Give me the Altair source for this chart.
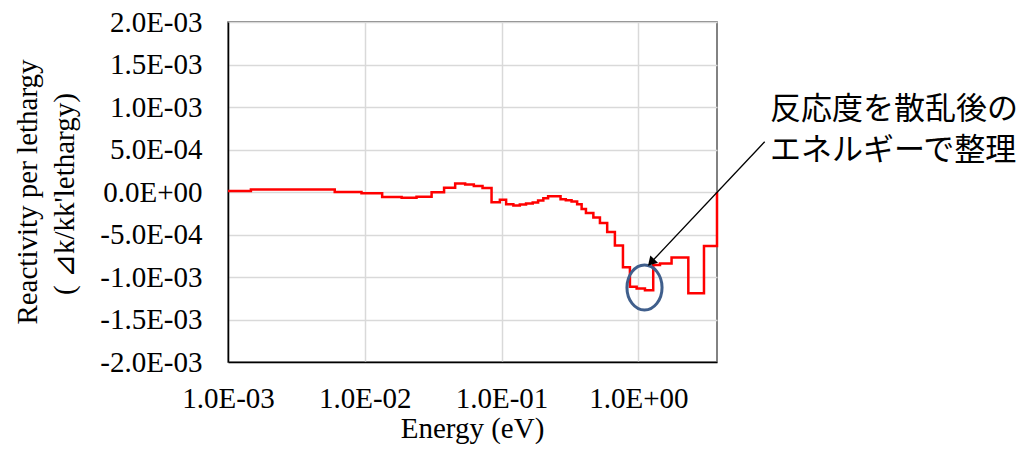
import json
import altair as alt
import pandas as pd

# ---- data ----
energy = [0.00100, 0.00147, 0.00603, 0.00946, 0.0134, 0.0186, 0.0239, 0.0308, 0.0380,
          0.0458, 0.0542, 0.0627, 0.0726, 0.0845, 0.0972, 0.108, 0.122, 0.136, 0.151,
          0.169, 0.185, 0.202, 0.219, 0.270, 0.295, 0.325, 0.357, 0.385, 0.414, 0.469,
          0.524, 0.592, 0.674, 0.772, 0.868, 0.972, 1.118, 1.285, 1.44, 1.75, 2.32,
          3.02, 3.76]
reactivity = [0.013e-3, 0.030e-3, 0.000e-3, -0.014e-3, -0.058e-3, -0.069e-3, -0.055e-3,
              -0.003e-3, 0.050e-3, 0.100e-3, 0.088e-3, 0.072e-3, 0.048e-3, -0.120e-3,
              -0.090e-3, -0.144e-3, -0.160e-3, -0.147e-3, -0.136e-3, -0.124e-3, -0.100e-3,
              -0.073e-3, -0.050e-3, -0.085e-3, -0.097e-3, -0.112e-3, -0.144e-3, -0.200e-3,
              -0.246e-3, -0.300e-3, -0.366e-3, -0.470e-3, -0.630e-3, -0.885e-3, -1.115e-3,
              -1.135e-3, -1.157e-3, -0.860e-3, -0.840e-3, -0.770e-3, -1.190e-3, -0.635e-3,
              0.000e-3]

x_tick_values = [0.001, 0.01, 0.1, 1.0]
x_tick_labels = ["1.0E-03", "1.0E-02", "1.0E-01", "1.0E+00"]
y_tick_values = [-0.002, -0.0015, -0.001, -0.0005, 0.0, 0.0005, 0.001, 0.0015, 0.002]
y_tick_labels = ["-2.0E-03", "-1.5E-03", "-1.0E-03", "-5.0E-04", "0.0E+00",
                 "5.0E-04", "1.0E-03", "1.5E-03", "2.0E-03"]
x_title = "Energy (eV)"
y_title_lines = ["Reactivity per lethargy", "( \u22bfk/kk'lethargy)"]
note_lines = ["反応度を散乱後の", "エネルギーで整理"]

SERIF = "Liberation Serif"
JP = "Noto Sans CJK JP"
W, H = 489, 340

df = pd.DataFrame({"energy": energy, "reactivity": reactivity})
one = pd.DataFrame({"k": [0]})

x_expr = json.dumps(x_tick_labels) + "[round(log(datum.value)/LN10)+3]"
y_expr = json.dumps(y_tick_labels) + "[round(datum.value/0.0005)+4]"

line = alt.Chart(df).mark_line(
    interpolate="step-after", color="#ff0000", strokeWidth=2.5
).encode(
    x=alt.X("energy:Q",
            scale=alt.Scale(type="log", domain=[0.001, 3.76], nice=False),
            axis=alt.Axis(values=x_tick_values, labelExpr=x_expr, title=None,
                          grid=True, ticks=False, labelPadding=22, labelFontSize=29,
                          labelFont=SERIF, labelColor="black", labelFlush=False,
                          labelOverlap=False, domainColor="black", domainWidth=1.5,
                          gridColor="#d9d9d9", gridWidth=1.5)),
    y=alt.Y("reactivity:Q",
            scale=alt.Scale(domain=[-0.002, 0.002], nice=False),
            axis=alt.Axis(values=y_tick_values, labelExpr=y_expr, title=None,
                          grid=True, ticks=False, labelPadding=26, labelFontSize=29,
                          labelFont=SERIF, labelColor="black", labelFlush=False,
                          labelOverlap=False, domainColor="black", domainWidth=1.5,
                          gridColor="#d9d9d9", gridWidth=1.5)),
)

def text_layer(txt, x, y, **kw):
    return alt.Chart(one).mark_text(text=txt, **kw).encode(
        x=alt.value(x), y=alt.value(y))

xt = text_layer(x_title, W / 2, H + 76, font=SERIF, fontSize=29, color="black",
                align="center", baseline="alphabetic")
yt1 = text_layer(y_title_lines[0], -200, 170, font=SERIF, fontSize=29, color="black",
                 align="center", baseline="middle", angle=270)
yt2 = text_layer(y_title_lines[1], -163, 172, font=SERIF, fontSize=29, color="black",
                 align="center", baseline="middle", angle=270)
n1 = text_layer(note_lines[0], 542, 87.5, font=JP, fontSize=31, color="black",
                align="left", baseline="middle")
n2 = text_layer(note_lines[1], 542, 128.5, font=JP, fontSize=31, color="black",
                align="left", baseline="middle")

arrow_line = alt.Chart(one).mark_rule(color="black", strokeWidth=1.3).encode(
    x=alt.value(536.7), y=alt.value(119.7), x2=alt.value(424.1), y2=alt.value(239.3))
arrow_head = alt.Chart(one).mark_point(
    shape="triangle", angle=223, size=110, filled=True, color="black", opacity=1
).encode(x=alt.value(424.1), y=alt.value(239.3))

ellipse = alt.Chart(one).mark_point(
    shape="M0,-1 A0.78,1 0 1,1 0,1 A0.78,1 0 1,1 0,-1 Z",
    size=2025, filled=False, stroke="#405f8c", strokeWidth=3, opacity=1
).encode(x=alt.value(416.5), y=alt.value(265.5))

chart = alt.layer(line, ellipse, arrow_line, arrow_head, xt, yt1, yt2, n1, n2).properties(
    width=W, height=H,
    autosize=alt.AutoSizeParams(type="none"),
    padding={"left": 220, "top": 14, "right": 300, "bottom": 82},
).configure_view(stroke="#595959", strokeWidth=1.5)

chart.save("out.html", embed_options={"renderer": "svg", "actions": False})
